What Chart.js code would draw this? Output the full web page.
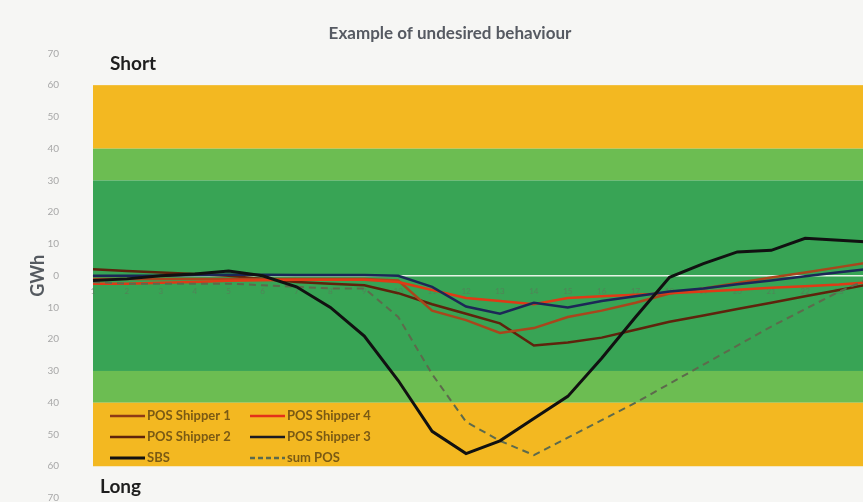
<!DOCTYPE html>
<html>
<head>
<meta charset="utf-8">
<script src="https://cdn.jsdelivr.net/npm/chart.js@4.4.1/dist/chart.umd.min.js"></script>
<style>
  html, body { margin: 0; padding: 0; background: #f6f6f4; overflow: hidden; }
  canvas { display: block; }
</style>
</head>
<body>
<canvas id="posChart" width="900" height="502"></canvas>
<script>
// heures du jour gazier
const hours = ['1','2','3','4','5','6','7','8','9','10','11','12','13','14','15','16','17','18','19','20','21','22','23','24'];

// valeurs en GWh (positif = short, négatif = long)
const posShipper1 = [-1, -1, -1, -1, -1, -1, -1, -1, -1, -1.5, -11, -14, -18, -16.5, -13, -11, -8.5, -5.6, -4, -2.3, -0.6, 1, 2.7, 4.4];
const posShipper2 = [2, 1.5, 1, 0.5, 0, -1, -2, -2.5, -3, -5.5, -9, -12, -15, -22, -21, -19.5, -17, -14.5, -12.5, -10.5, -8.5, -6.5, -4.5, -2.5];
const posShipper3 = [0, 0, 0, 0.2, 0.3, 0.3, 0.2, 0.2, 0.2, 0, -3.5, -9.7, -12, -8.5, -10, -8, -6.5, -5, -4, -2.7, -1.5, -0.2, 1.1, 2.3];
const posShipper4 = [-2.5, -2.5, -2.2, -2, -1.6, -1.4, -1.3, -1.3, -1.3, -2, -4.5, -7, -8, -9, -7, -6.5, -6, -5.5, -5, -4.4, -3.8, -3.3, -2.8, -2];
const sbs = [-1.5, -1, 0, 0.5, 1.5, 0, -3.5, -10, -19, -33, -49, -56, -52, -45, -38, -26, -13, -0.5, 3.8, 7.5, 8, 11.8, 11.2, 10.5];
const sumPos = [-2, -2.5, -2.5, -2.5, -2.5, -3, -3.5, -4, -4, -13, -31, -46, -52, -56.5, -51, -45.5, -40, -34, -28, -22, -16, -10.5, -5, -0.5];

// zones de tolérance
const bandLimits = [[40, 60], [30, 40], [-30, 30], [-40, -30], [-60, -40]];
const bandColors = ['#f3b821', '#6cbd52', '#38a455', '#6cbd52', '#f3b821'];

const yMin = -70;
const yMax = 70;

const bandsPlugin = {
    id: 'bands',
    beforeDraw(chart) {
        const { ctx, chartArea, scales } = chart;
        ctx.save();
        ctx.fillStyle = '#f6f6f4';
        ctx.fillRect(0, 0, chart.width, chart.height);
        bandLimits.forEach((b, i) => {
            const top = scales.y.getPixelForValue(b[1]);
            const bottom = scales.y.getPixelForValue(b[0]);
            ctx.fillStyle = bandColors[i];
            ctx.fillRect(chartArea.left, top, chartArea.right - chartArea.left + 30, bottom - top);
        });
        ctx.restore();
    },
    afterDraw(chart) {
        const { ctx, chartArea, scales } = chart;
        ctx.save();
        // libellés Short / Long
        ctx.fillStyle = '#1e1e1e';
        ctx.font = 'bold 19px Lato';
        ctx.textBaseline = 'middle';
        ctx.fillText('Short', chartArea.left + 17, scales.y.getPixelForValue(66.8));
        ctx.fillText('Long', chartArea.left + 7, scales.y.getPixelForValue(-66.5));

        // légende maison, dans la zone jaune du bas
        const entries = [
            ['POS Shipper 1', 'POS Shipper 4'],
            ['POS Shipper 2', 'POS Shipper 3'],
            ['SBS', 'sum POS']
        ];
        const legendColors = {
            'POS Shipper 1': '#8e3a16',
            'POS Shipper 2': '#5e230c',
            'POS Shipper 3': '#1b1b22',
            'POS Shipper 4': '#e4311a',
            'SBS': '#111111',
            'sum POS': '#5d6a4c'
        };
        ctx.font = 'bold 13px Lato';
        entries.forEach((row, r) => {
            const y = scales.y.getPixelForValue(-44.2 - r * 6.6);
            row.forEach((label, c) => {
                const x0 = chartArea.left + 17 + c * 140;
                ctx.strokeStyle = legendColors[label];
                ctx.lineWidth = label === 'SBS' ? 3 : 2.5;
                ctx.setLineDash(label === 'sum POS' ? [5, 3] : []);
                ctx.beginPath();
                ctx.moveTo(x0, y);
                ctx.lineTo(x0 + 35, y);
                ctx.stroke();
                ctx.fillStyle = '#7a5a14';
                ctx.fillText(label, x0 + 37, y);
            });
        });
        ctx.restore();
    }
};

new Chart(document.getElementById('posChart'), {
    type: 'line',
    data: {
        labels: hours,
        datasets: [
            { label: 'SBS', data: sbs, borderColor: '#111111', borderWidth: 3, order: 0 },
            { label: 'sum POS', data: sumPos, borderColor: '#5d6a4c', borderWidth: 2, borderDash: [7, 5], order: 1 },
            { label: 'POS Shipper 3', data: posShipper3, borderColor: '#1c2757', borderWidth: 2.5, order: 2 },
            { label: 'POS Shipper 4', data: posShipper4, borderColor: '#df3a16', borderWidth: 2.5, order: 3 },
            { label: 'POS Shipper 1', data: posShipper1, borderColor: '#a9461c', borderWidth: 2.5, order: 4 },
            { label: 'POS Shipper 2', data: posShipper2, borderColor: '#5e230c', borderWidth: 2.5, order: 5 }
        ]
    },
    options: {
        responsive: false,
        animation: false,
        elements: { point: { radius: 0 }, line: { tension: 0 } },
        layout: { padding: { left: 27, right: 27, bottom: 4 } },
        plugins: {
            legend: { display: false },
            tooltip: { enabled: false },
            title: {
                display: true,
                text: 'Example of undesired behaviour',
                color: '#565a62',
                font: { family: 'Lato', size: 17, weight: 'bold' },
                padding: { top: 23, bottom: 10 }
            }
        },
        scales: {
            x: {
                position: { y: 0 },
                offset: false,
                afterFit(scale) { scale.height = 0; },
                grid: { display: false },
                border: { display: true, color: '#e6f3e6', width: 1.5 },
                ticks: {
                    autoSkip: false,
                    maxRotation: 0,
                    padding: 3,
                    color: 'rgba(90,120,90,0.75)',
                    font: { family: 'Lato', size: 8 }
                }
            },
            y: {
                min: yMin,
                max: yMax,
                grid: { display: false },
                border: { display: false },
                afterFit(scale) {
                    // le padding des ticks ne doit pas rogner la hauteur du graphe
                    scale.width = 66;
                    scale.paddingTop = 4;
                    scale.paddingBottom = 4;
                },
                ticks: {
                    stepSize: 10,
                    padding: 26,
                    color: '#a8a8a8',
                    font: { family: 'Lato', size: 10 },
                    callback: v => Math.abs(v)
                },
                title: {
                    display: true,
                    text: 'GWh',
                    color: '#555a60',
                    font: { family: 'Lato', size: 18, weight: 'bold' },
                    padding: { top: 0, bottom: 0 }
                }
            }
        }
    },
    plugins: [bandsPlugin]
});
</script>
</body>
</html>
